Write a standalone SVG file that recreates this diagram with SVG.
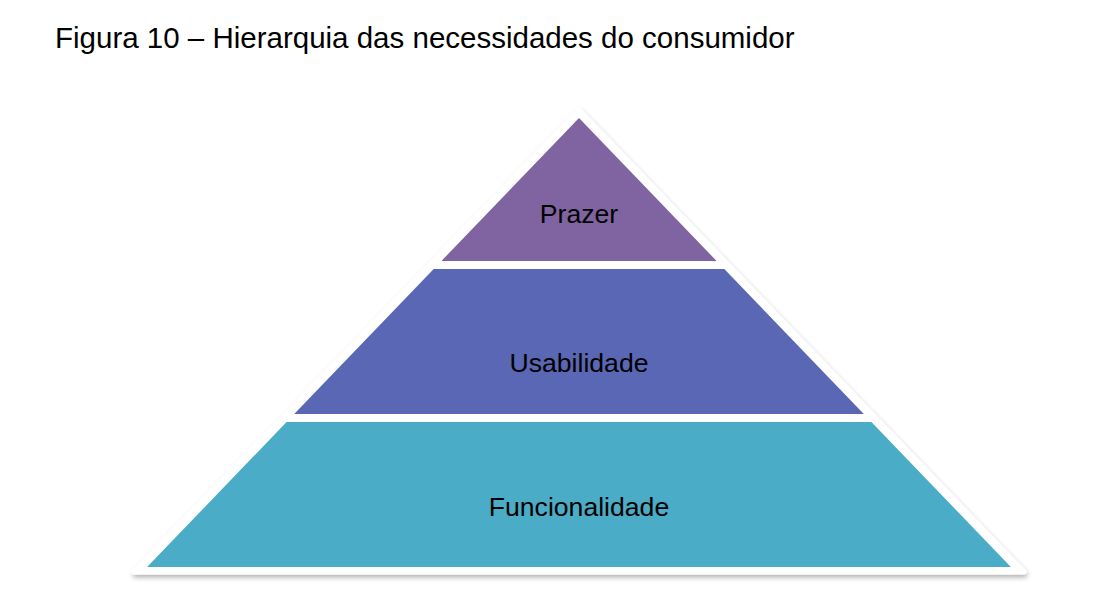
<svg xmlns="http://www.w3.org/2000/svg" width="1094" height="594" viewBox="0 0 1094 594">
  <defs>
    <filter id="shadow" x="-10%" y="-10%" width="120%" height="125%">
      <feGaussianBlur in="SourceAlpha" stdDeviation="2.5"/>
      <feOffset dx="1" dy="3" result="b"/>
      <feComponentTransfer><feFuncA type="linear" slope="0.3"/></feComponentTransfer>
      <feMerge><feMergeNode/><feMergeNode in="SourceGraphic"/></feMerge>
    </filter>
  </defs>
  <style>
    .title { font-family: "Liberation Sans", Arial, sans-serif; font-size: 29.5px; fill: #000; }
    .lbl { font-family: "Liberation Sans", Arial, sans-serif; font-size: 26.6px; fill: #000; text-anchor: middle; }
  </style>
  <rect width="1094" height="594" fill="#fff"/>
  <text class="title" x="55" y="48">Figura 10 – Hierarquia das necessidades do consumidor</text>

  <g id="outline">
    <polygon points="579,110 1024,572 134,572" fill="#fff" stroke="#fff" stroke-width="5" stroke-linejoin="round" filter="url(#shadow)"/>
  </g>
  <g id="prazer">
    <polygon points="579,118 716.6,261 441.4,261" fill="#8064A2"/>
    <text class="lbl" x="579" y="223">Prazer</text>
  </g>
  <g id="usabilidade">
    <polygon points="433.7,269 724.3,269 863.8,414 294.2,414" fill="#5A67B4"/>
    <text class="lbl" x="579" y="372">Usabilidade</text>
  </g>
  <g id="funcionalidade">
    <polygon points="286.6,422 871.4,422 1010.9,567 147.1,567" fill="#4AACC6"/>
    <text class="lbl" x="579" y="516">Funcionalidade</text>
  </g>
  <g id="connectors"></g>
</svg>
